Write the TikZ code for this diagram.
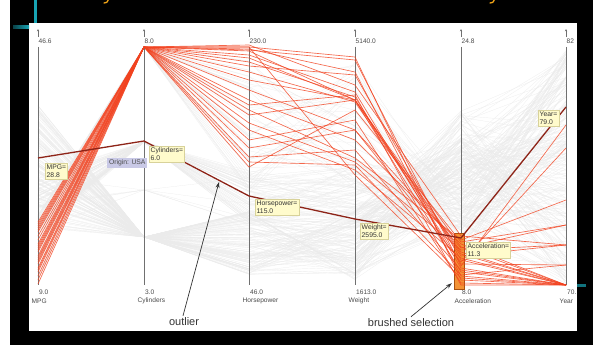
\documentclass[tikz,border=0pt]{standalone}
\usepackage{fontspec}
\setmainfont{Liberation Sans}
\usetikzlibrary{arrows.meta}
\definecolor{redsel}{HTML}{F2421F}
\definecolor{outl}{HTML}{8E2418}
\definecolor{axisc}{HTML}{707070}
\definecolor{lblc}{HTML}{4A4A4A}
\definecolor{tipfill}{HTML}{FFFBCC}
\definecolor{tipdraw}{HTML}{D8D29A}
\definecolor{origfill}{HTML}{C9C9E6}
\definecolor{teal1}{HTML}{18A4B4}
\definecolor{brushf}{HTML}{F39235}
\definecolor{brushd}{HTML}{A85010}
\definecolor{titley}{HTML}{F0A418}
\tikzset{
  bgline/.style={gray!16, line width=0.2pt},
  axisline/.style={axisc, line width=0.6pt},
  axtip/.style={axisc, line width=0.4pt, -{Stealth[length=2.4pt,width=2.2pt]}},
  maxlbl/.style={lblc, font=\fontsize{6.6}{6.6}\selectfont, anchor=west, inner sep=0pt},
  minlbl/.style={lblc, font=\fontsize{6.6}{6.6}\selectfont, anchor=west, inner sep=0pt},
  namelbl/.style={lblc, font=\fontsize{6.6}{6.6}\selectfont, anchor=west, inner sep=0pt},
  selline/.style={redsel, line width=0.65pt, opacity=0.8},
  outline/.style={outl, line width=1.3pt, line join=round},
  tipbox/.style={fill=tipfill, draw=tipdraw, line width=0.4pt, text=black!80, align=left,
     font=\fontsize{6.8}{7.8}\selectfont, inner sep=1.5pt, anchor=north west},
  annot/.style={black!80, font=\fontsize{11}{11}\selectfont, inner sep=1pt},
  annarrow/.style={black!80, line width=0.7pt, -{Stealth[length=6pt,width=4pt]}}
}
\begin{document}
\begin{tikzpicture}[x=1pt,y=-1pt]
\useasboundingbox (0,0) rectangle (593,345);
% slide background
\fill[black] (0,0) rectangle (593,345);
\fill[white] (0,0) rectangle (10,345);
\fill[white] (29,23) rectangle (577,331);
% slide accents
\fill[teal1] (33.5,0) rectangle (36.5,23);
\shade[left color=teal1!40!black, right color=teal1] (13,26) rectangle (29,28.5);
\fill[teal1!70!black] (577,284) rectangle (586,286.5);
% cut-off title fragments (descenders only)
\draw[titley, line width=1.3pt, line cap=round] (108.5,-1) .. controls (107.5,2.5) and (106,3.2) .. (104,3);
\draw[titley, line width=1.3pt, line cap=round] (494.5,-1) .. controls (493.5,2.5) and (492,3.2) .. (490,3);

% background records
\pgfmathsetseed{11}
\foreach \i in {1,...,210}{
  \pgfmathsetmacro{\r}{rnd}
  \pgfmathsetmacro{\cy}{\r<0.52 ? 237 : (\r<0.74 ? 142 : (\r<0.76 ? 190 : 47))}
  \pgfmathsetmacro{\mp}{\r<0.52 ? 105+125*rnd : (\r<0.76 ? 175+60*rnd : 215+65*rnd)}
  \pgfmathsetmacro{\hp}{\r<0.52 ? 210+65*rnd : (\r<0.76 ? 170+55*rnd : 60+135*rnd)}
  \pgfmathsetmacro{\wt}{\r<0.52 ? 210+70*rnd : (\r<0.76 ? 165+60*rnd : 60+130*rnd)}
  \pgfmathsetmacro{\ac}{\r<0.52 ? 110+120*rnd : (\r<0.76 ? 140+90*rnd : 185+80*rnd)}
  \pgfmathsetmacro{\yr}{47+238*rnd}
  \draw[bgline] (38,\mp) -- (144,\cy) -- (249,\hp) -- (355,\wt) -- (461,\ac) -- (566,\yr);
}

% axes
\foreach \x/\tp/\bt/\nm/\id in {38/46.6/9.0/MPG/mpg, 144/8.0/3.0/Cylinders/cyl,
   249/230.0/46.0/Horsepower/hp, 355/5140.0/1613.0/Weight/wt,
   461/24.8/8.0/Acceleration/acc, 566/82/70./Year/yr}{
  \coordinate (\id-top) at (\x,47);
  \coordinate (\id-bot) at (\x,285);
  \draw[axisline] (\id-top) -- (\id-bot);
  \draw[axtip] (\x,37) -- (\x,29);
  \node[maxlbl] (\id-max) at (\x+0.5,41) {\tp};
  \node[minlbl] (\id-min) at (\x+1,292) {\bt};
  \node[namelbl] (\id-name) at (\x-6.5,301) {\nm};
}

% brush
\fill[brushf] (454,233) rectangle (464,289);
\draw[brushd, line width=0.6pt] (454,233) rectangle (464,289);
\node[inner sep=0pt, minimum width=10pt, minimum height=56pt] (brush) at (459,261) {};

% selected records: mpg, hp, wt, acc, yr
\foreach \m/\h/\w/\a/\y in {
  284/47/57/280/285, 280/49/72/276/285, 276/51/100/272/285, 272/55/92/268/285,
  268/62/97/264/265, 264/66/75/260/285, 260/72/102/256/245, 256/80/100/252/285,
  252/90/130/248/225, 248/100/140/244/285, 244/110/158/240/200, 240/115/100/247/285,
  236/123/162/250/245, 232/130/170/258/285, 228/148/130/262/148, 224/157/150/270/285,
  222/162/165/275/265, 270/47/175/278/285, 258/50/60/266/125, 246/58/100/254/285,
  230/167/110/242/225, 250/45/85/236/245, 226/140/120/283/285, 262/105/95/285/285}{
  \draw[selline] (38,\m) -- (cyl-top) -- (249,\h) -- (355,\w) -- (461,\a) -- (566,\y);
}

% outlier record
\coordinate (o1) at (38,158);
\coordinate (o2) at (144,141);
\coordinate (o3) at (249,196);
\coordinate (o4) at (355,219);
\coordinate (o5) at (461,238);
\coordinate (o6) at (566,107);
\draw[outline] (o1) -- (o2) -- (o3) -- (o4) -- (o5) -- (o6);

% tooltips
\node[tipbox] (tmpg) at (45,163) {MPG=\\28.8};
\node[fill=origfill, text=black!70, font=\fontsize{6.8}{7.8}\selectfont, inner sep=1.8pt, anchor=north west] (torig) at (107,158) {Origin: USA};
\node[tipbox] (tcyl) at (149,146) {Cylinders=\\6.0};
\node[tipbox] (thp) at (255,199) {Horsepower=\\115.0};
\node[tipbox] (twt) at (360,223) {Weight=\\2595.0};
\node[tipbox] (tacc) at (466,242) {Acceleration=\\11.3};
\node[tipbox] (tyr) at (538,110) {Year=\\79.0};

% annotations
\node[annot] (outlier) at (184,322) {outlier};
\coordinate (outtarget) at (219,182);
\draw[annarrow] (outlier.north) ++(-1,-1) -- (outtarget);
\node[annot] (brushed) at (411,323) {brushed selection};
\coordinate (brushtarget) at (brush.south west);
\draw[annarrow] (brushed.north) ++(0,-1) -- ([shift={(-2,-6)}]brushtarget);
\end{tikzpicture}
\end{document}
